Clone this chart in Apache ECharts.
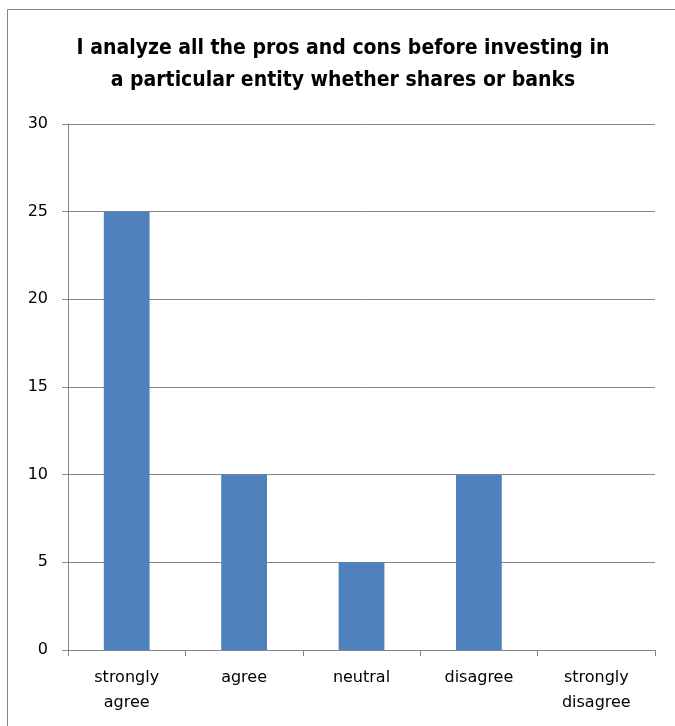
<!DOCTYPE html>
<html>
<head>
<meta charset="utf-8">
<script src="https://cdn.jsdelivr.net/npm/echarts@6/dist/echarts.min.js"></script>
<style>
  html, body { margin: 0; padding: 0; background: #ffffff; }
  #chart { width: 675px; height: 726px; }
</style>
</head>
<body>
<div id="chart"></div>
<script>
// Survey responses
const titleLines = ['I analyze all the pros and cons before investing in', 'a particular entity whether shares or banks'];
const categories = ['strongly\nagree', 'agree', 'neutral', 'disagree', 'strongly\ndisagree'];
const responses = [25, 10, 5, 10, 0];
const yTicks = { min: 0, max: 30, interval: 5 };

const TITLE_FONT = '"DejaVu Sans Condensed", "DejaVu Sans", sans-serif';
const LABEL_FONT = '"DejaVu Sans", sans-serif';
const chart = echarts.init(document.getElementById('chart'), null, { renderer: 'canvas' });

chart.setOption({
  backgroundColor: '#ffffff',
  animation: false,
  title: {
    text: titleLines.join('\n'),
    left: 338,
    textAlign: 'center',
    top: 28,
    textStyle: { fontFamily: TITLE_FONT, fontWeight: 'bold', fontSize: 21, color: '#000000', lineHeight: 32 }
  },
  graphic: [{
    type: 'rect',
    shape: { x: 7.5, y: 9.5, width: 700, height: 760 },
    style: { fill: 'none', stroke: '#868686', lineWidth: 1 },
    silent: true,
    z: -1
  }],
  grid: { left: 68, right: 20, top: 124, bottom: 76, containLabel: false },
  xAxis: {
    type: 'category',
    data: categories,
    axisLine: { lineStyle: { color: '#868686', width: 1 } },
    axisTick: { show: true, length: 6, lineStyle: { color: '#868686' } },
    axisLabel: { fontFamily: LABEL_FONT, fontSize: 16, color: '#000000', margin: 15, lineHeight: 25 }
  },
  yAxis: {
    type: 'value',
    min: yTicks.min,
    max: yTicks.max,
    interval: yTicks.interval,
    axisLine: { show: true, lineStyle: { color: '#868686', width: 1 } },
    axisTick: { show: true, length: 6, lineStyle: { color: '#868686' } },
    splitLine: { lineStyle: { color: '#868686', width: 1 } },
    axisLabel: { fontFamily: LABEL_FONT, fontSize: 16, color: '#000000', margin: 20 }
  },
  series: [{
    type: 'bar',
    data: responses,
    barWidth: '39%',
    itemStyle: { color: '#4F81BD' }
  }]
});
</script>
</body>
</html>
